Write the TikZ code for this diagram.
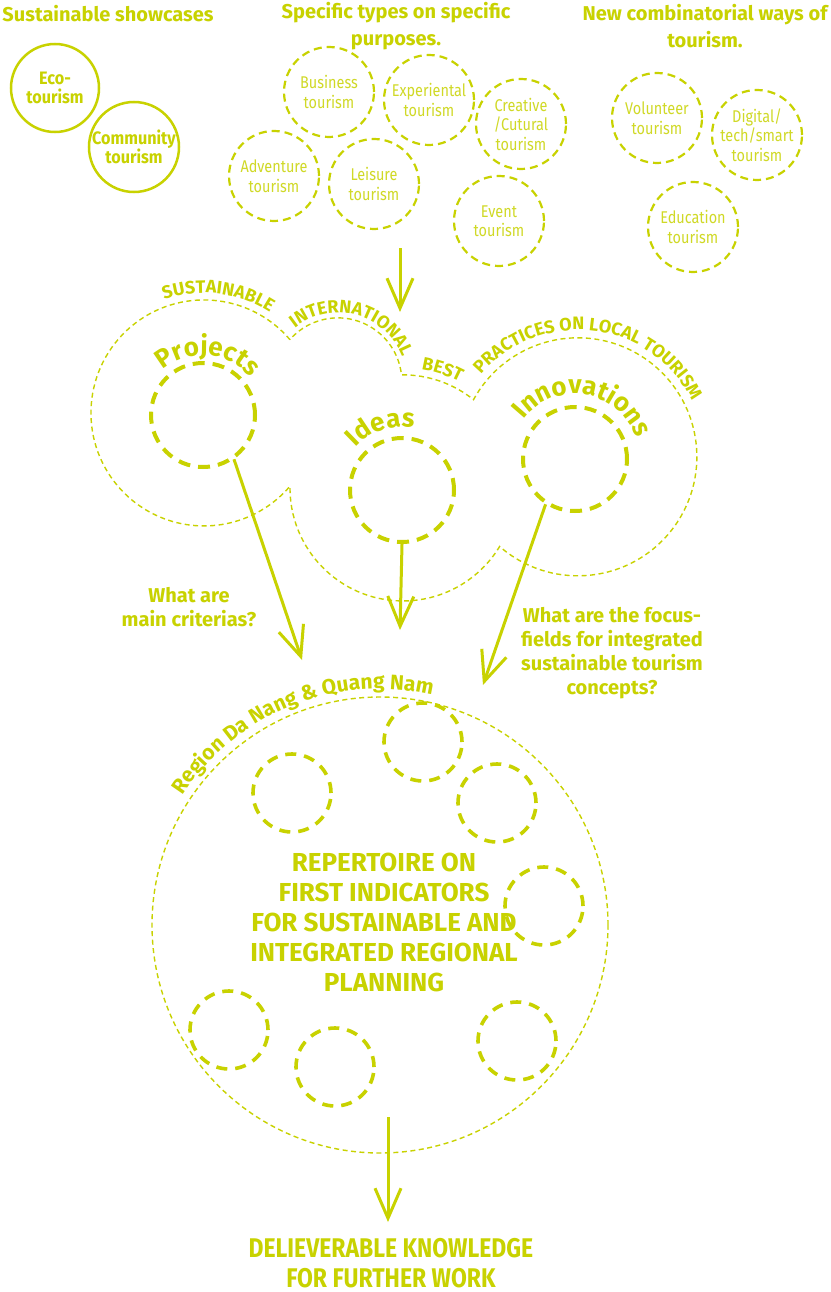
\documentclass[tikz,border=0pt]{standalone}
\usepackage{fontspec}
\setmainfont{Fira Sans}
\newfontfamily\fcond[FakeStretch=0.85]{Fira Sans}
\newfontfamily\fsemi[FakeStretch=0.9]{Fira Sans}
\usetikzlibrary{arrows.meta,decorations.text,calc}
\definecolor{acc}{RGB}{200,210,0}
\newcommand\cfont{\color{acc}\bfseries\fontsize{18}{18}\selectfont}
\newcommand\pfont{\color{acc}\bfseries\fontsize{26}{26}\selectfont}
\newcommand\rfont{\color{acc}\bfseries\fontsize{21}{21}\selectfont}
\newcommand\arctext[6]{\path[decorate,decoration={text along path,text align=center,text={|#5|#6}}] ($(#1)+(#3+#4:#2)$) arc[start angle=#3+#4,end angle=#3-#4,radius=#2];}
\tikzset{
 every node/.style={text=acc},
 solidc/.style={circle, draw=acc, line width=2.5pt, minimum size=88pt, inner sep=0pt, align=center, font=\fsemi\bfseries\fontsize{18}{19}\selectfont},
 tourc/.style={circle, draw=acc, line width=2.2pt, dash pattern=on 8pt off 5pt, minimum size=90pt, inner sep=0pt, align=center, text=acc!85, font=\fcond\fontsize{17}{19.5}\selectfont},
 bigc/.style={circle, draw=acc, line width=4pt, dash pattern=on 12pt off 8pt, minimum size=104pt, inner sep=0pt},
 smallc/.style={circle, draw=acc, line width=3.6pt, dash pattern=on 11pt off 8pt, minimum size=78pt, inner sep=0pt},
 thind/.style={draw=acc, line width=1.4pt, dash pattern=on 5pt off 3.5pt},
 arr/.style={draw=acc, line width=3pt, -{Straight Barb[length=30pt,width=26pt,line width=3pt]}},
 head/.style={font=\bfseries\fontsize{20}{27}\selectfont, align=center},
 quest/.style={font=\bfseries\fontsize{20}{24}\selectfont, align=center},
 caps/.style={font=\bfseries\fontsize{26}{30}\selectfont, align=center},
 caps2/.style={font=\fcond\bfseries\fontsize{27}{30}\selectfont, align=center},
}
\begin{document}
\begin{tikzpicture}[x=1pt,y=1pt]
\fill[white] (0,0) rectangle (830,-1292);
\useasboundingbox (0,0) rectangle (830,-1292);
% headings
\node[head] (h1) at (108,-14) {Sustainable showcases};
\node[head] (h2) at (396,-26) {Specific types on specific\\purposes.};
\node[head] (h3) at (705,-26) {New combinatorial ways of\\tourism.};
% sustainable showcases
\node[solidc] (eco) at (55,-88) {Eco-\\tourism};
\node[solidc, minimum size=90pt] (comm) at (134,-147) {Community\\tourism};
% specific types
\node[tourc] (bus) at (329,-92) {Business\\tourism};
\node[tourc] (exp) at (429,-100) {Experiental\\tourism};
\node[tourc] (cre) at (521,-124) {Creative\\/Cutural\\tourism};
\node[tourc] (adv) at (274,-176) {Adventure\\tourism};
\node[tourc] (lei) at (374,-184) {Leisure\\tourism};
\node[tourc] (evt) at (499,-221) {Event\\tourism};
% new combinatorial
\node[tourc] (vol) at (657,-118) {Volunteer\\tourism};
\node[tourc] (dig) at (757,-135) {Digital/\\tech/smart\\tourism};
\node[tourc] (edu) at (693,-227) {Education\\tourism};
% top arrow
\coordinate (topA) at (400,-248);
\coordinate (topB) at (400,-312);
\draw[arr] (topA) -- (topB);
% cloud
\coordinate (L) at (204,-413);
\coordinate (S) at (338,-382);
\coordinate (M) at (403,-488);
\coordinate (R) at (578,-457);
\coordinate (cA) at (290,-339.7);
\draw[thind] (cA) arc[start angle=40.4,end angle=319.6,radius=113]
  arc[start angle=179.1,end angle=328.8,radius=113]
  arc[start angle=228.9,end angle=511.3,radius=119]
  arc[start angle=51.3,end angle=90.7,radius=113]
  arc[start angle=6.3,end angle=138.6,radius=64] -- cycle;
\arctext{L}{120}{83}{45}{\cfont}{SUSTAINABLE}
\arctext{S}{69}{75}{80}{\cfont}{INTERNATIONAL}
\arctext{M}{120}{71.5}{15}{\cfont}{BEST}
\arctext{R}{127}{83}{70}{\cfont}{PRACTICES ON LOCAL TOURISM}
% inner circles
\node[bigc] (proj) at (203,-415) {};
\node[bigc] (ideas) at (402,-490) {};
\node[bigc] (inno) at (575,-459) {};
\arctext{proj}{60}{85}{70}{\pfont}{Projects}
\arctext{ideas}{63}{108.5}{40}{\pfont}{Ideas}
\arctext{inno}{65}{80.5}{75}{\pfont}{Innovations}
% arrows to region
\coordinate (pt1) at (302,-660);
\coordinate (pt2) at (400,-630);
\coordinate (pt3) at (483,-685);
\draw[arr] (proj.-55) -- (pt1);
\draw[arr] (ideas.south) -- (pt2);
\draw[arr] (inno.237) -- (pt3);
% questions
\node[quest] (q1) at (189,-607) {What are\\main criterias?};
\node[quest] (q2) at (612,-653) {What are the focus-\\fields for integrated\\sustainable tourism\\concepts?};
% region
\node[circle, thind, minimum size=456pt, inner sep=0pt] (region) at (380,-925) {};
\arctext{region}{236}{112}{45}{\rfont}{Region Da Nang {\&} Quang Nam}
\node[smallc] (s1) at (423,-742) {};
\node[smallc] (s2) at (292,-793) {};
\node[smallc] (s3) at (497,-803) {};
\node[smallc] (s4) at (544,-906) {};
\node[smallc] (s5) at (229,-1030) {};
\node[smallc] (s6) at (335,-1067) {};
\node[smallc] (s7) at (517,-1041) {};
\node[caps] (rep) at (384,-922) {REPERTOIRE ON\\FIRST INDICATORS\\FOR SUSTAINABLE AND\\INTEGRATED REGIONAL\\PLANNING};
% bottom
\coordinate (bA) at (388,-1117);
\coordinate (bB) at (388,-1222);
\node[caps2] (del) at (391,-1263) {DELIEVERABLE KNOWLEDGE\\FOR FURTHER WORK};
\draw[arr] (bA) -- (bB);
\end{tikzpicture}
\end{document}
